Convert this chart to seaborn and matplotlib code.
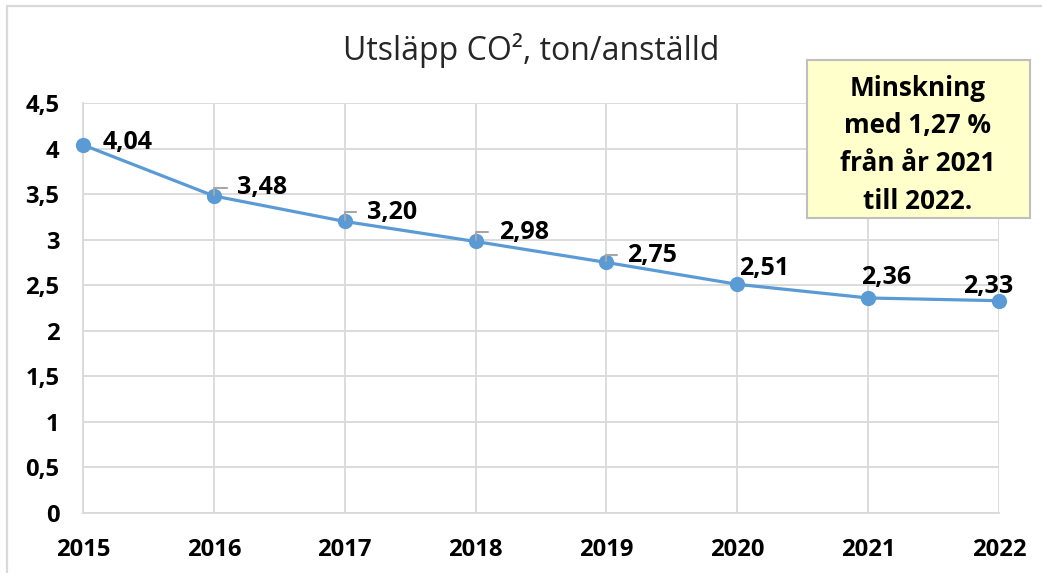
import matplotlib
matplotlib.use("Agg")
import matplotlib.pyplot as plt
import seaborn as sns
import pandas as pd
from matplotlib.patches import Rectangle
from matplotlib.lines import Line2D

years = [2015, 2016, 2017, 2018, 2019, 2020, 2021, 2022]
values = [4.04, 3.48, 3.20, 2.98, 2.75, 2.51, 2.36, 2.33]
y_ticks = [0, 0.5, 1, 1.5, 2, 2.5, 3, 3.5, 4, 4.5]
title = "Utsläpp CO², ton/anställd"
box_lines = ["Minskning", "med 1,27 %", "från år 2021", "till 2022."]

# label offsets in pixels (dx to anchor, dy up), anchor ha, leader?
label_style = [
    (20, 2, "left", False),
    (23, 8, "left", True),
    (22, 9, "left", True),
    (23, 9, "left", True),
    (21, 7, "left", True),
    (2, 16, "left", False),
    (18, 20, "center", False),
    (-11, 14, "center", False),
]

sns.set_theme(style="white")
plt.rcParams["font.family"] = ["Open Sans", "DejaVu Sans"]

W, H = 1042, 573
fig = plt.figure(figsize=(W / 100, H / 100), dpi=100)
ax = fig.add_axes([83 / W, 1 - 513 / H, (999 - 83) / W, (513 - 103) / H])

df = pd.DataFrame({"year": years, "value": values})
blue = "#5B9BD5"
grid = "#D9D9D9"
sns.lineplot(data=df, x="year", y="value", ax=ax, color=blue, linewidth=2.3,
             marker="o", markersize=11, markeredgewidth=0, clip_on=False, zorder=5)

ax.set_xlim(years[0], years[-1])
ax.set_ylim(0, 4.5)
ax.set_xticks(years)
ax.set_xticklabels([str(y) for y in years])
ax.set_yticks(y_ticks)
ax.set_yticklabels([("%g" % t).replace(".", ",") for t in y_ticks])
ax.grid(True, color=grid, linewidth=1.3)
ax.set_axisbelow(True)
for s in ["top", "right"]:
    ax.spines[s].set_visible(False)
for s in ["left", "bottom"]:
    ax.spines[s].set_color(grid)
    ax.spines[s].set_linewidth(1.3)
ax.tick_params(axis="y", length=0, pad=17, labelsize=17.2)
ax.tick_params(axis="x", length=0, pad=18, labelsize=17.2)
for lab in ax.get_xticklabels() + ax.get_yticklabels():
    lab.set_fontweight("bold")
    lab.set_color("black")
ax.set_xlabel("")
ax.set_ylabel("")

for x, v, (dx, dy, ha, leader) in zip(years, values, label_style):
    txt = ("%.2f" % v).replace(".", ",")
    kw = dict(xy=(x, v), xytext=(dx * 0.72, dy * 0.72), textcoords="offset points",
              ha=ha, va="center", fontsize=18, fontweight="bold", color="black",
              zorder=6, annotation_clip=False)
    if leader:
        kw["arrowprops"] = dict(arrowstyle="-", color="#A6A6A6", lw=1.5,
                                connectionstyle="angle,angleA=180,angleB=90,rad=0",
                                shrinkA=5, shrinkB=1)
    ax.annotate(txt, **kw)

fig.text(531 / W, 1 - 50 / H, title, ha="center", va="center", fontsize=23, color="#262626")

# annotation box
fig.patches.append(Rectangle((807 / W, 1 - 218 / H), (1030 - 807) / W, (218 - 60) / H,
                             transform=fig.transFigure, facecolor="#FFFFCC",
                             edgecolor="#BFBFBF", linewidth=1.5, zorder=10))
for i, line in enumerate(box_lines):
    fig.text(918 / W, 1 - (88 + 37.7 * i) / H, line, ha="center", va="center",
             fontsize=18.8, fontweight="bold", color="black", zorder=11)

# outer chart border
fig.lines.append(Line2D([7 / W, 7 / W], [0, 1 - 6 / H], transform=fig.transFigure,
                        color=grid, linewidth=1.6))
fig.lines.append(Line2D([7 / W, 1], [1 - 6 / H, 1 - 6 / H], transform=fig.transFigure,
                        color=grid, linewidth=1.6))

fig.savefig("out.png", dpi=100, facecolor="white")
